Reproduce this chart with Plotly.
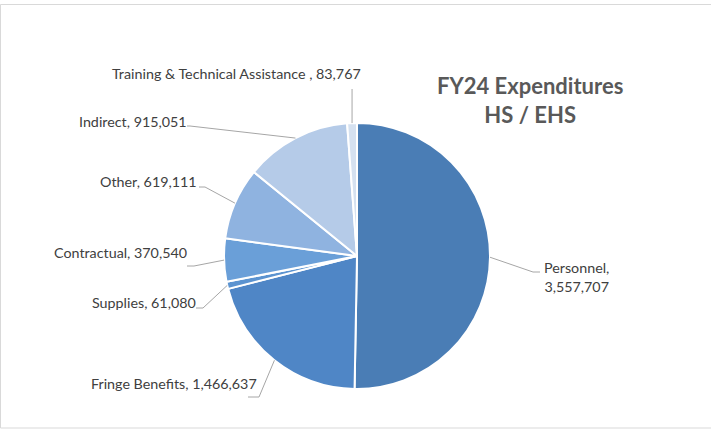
import math
import plotly.graph_objects as go

# ---- data ----
categories = ["Personnel", "Fringe Benefits", "Supplies", "Contractual",
              "Other", "Indirect", "Training & Technical Assistance "]
values = [3557707, 1466637, 61080, 370540, 619111, 915051, 83767]
colors = ["#4a7db5", "#4f86c6", "#5b93d0", "#6a9fd8",
          "#8fb3e0", "#b5cbe8", "#d5e1f0"]

W, H = 711, 430
CX, CY, R = 357, 256, 133

def px(x):
    return x / W

def py(y):
    return 1 - y / H

fig = go.Figure()
fig.add_trace(go.Pie(
    labels=categories, values=values, sort=False, direction="clockwise",
    rotation=0, textinfo="none", hoverinfo="label+value",
    marker=dict(colors=colors, line=dict(color="white", width=2)),
    domain=dict(x=[px(CX - R), px(CX + R)], y=[py(CY + R), py(CY - R)]),
    showlegend=False,
))

# label layout: elbow points (px), label anchor (px), xanchor
label_layout = [
    dict(path=[(533, 272), (540, 272)], pos=(576, 277), xa="center"),
    dict(path=[(259, 397), (248, 397)], pos=(259, 383), xa="right"),
    dict(path=[(203, 308), (196, 308)], pos=(198, 302), xa="right"),
    dict(path=[(194, 266), (187, 266)], pos=(189, 252), xa="right"),
    dict(path=[(205, 187), (199, 187)], pos=(199, 182), xa="right"),
    dict(path=[(190, 126), (187, 126)], pos=(189, 121), xa="right"),
    dict(path=[None, (0, 89)], pos=(236, 73), xa="center"),
]

total = sum(values)
cum = 0.0
shapes = []
annotations = []
label_font = dict(family="Lato, Carlito, sans-serif", size=14.3, color="#404040")
for cat, v, lay in zip(categories, values, label_layout):
    mid = (cum + v / 2) / total * 2 * math.pi
    cum += v
    ex = CX + R * math.sin(mid)
    ey = CY - R * math.cos(mid)
    pts = [(ex, ey)]
    for p in lay["path"]:
        if p is None:
            continue
        if p[0] == 0:
            pts.append((ex, p[1]))
        else:
            pts.append(p)
    d = "M {} {}".format(px(pts[0][0]), py(pts[0][1]))
    for q in pts[1:]:
        d += " L {} {}".format(px(q[0]), py(q[1]))
    shapes.append(dict(type="path", path=d, xref="paper", yref="paper",
                       line=dict(color="#a6a6a6", width=1)))
    val = f"{v:,}"
    if cat == "Personnel":
        text = f"{cat},<br>{val}"
    else:
        text = f"{cat}, {val}"
    annotations.append(dict(text=text, x=px(lay["pos"][0]), y=py(lay["pos"][1]),
                            xref="paper", yref="paper", xanchor=lay["xa"],
                            yanchor="middle", showarrow=False, font=label_font,
                            align="center"))

annotations.append(dict(text="<b>FY24 Expenditures</b><br><b>HS / EHS</b>",
                        x=px(530), y=py(100), xref="paper", yref="paper",
                        xanchor="center", yanchor="middle", showarrow=False,
                        align="center",
                        font=dict(family="Lato, Carlito, sans-serif", size=22,
                                  color="#595959")))

shapes.append(dict(type="rect", xref="paper", yref="paper",
                   x0=px(0.5), x1=px(713), y0=py(428), y1=py(4.5),
                   line=dict(color="#d9d9d9", width=1)))

fig.update_layout(width=W, height=H, margin=dict(l=0, r=0, t=0, b=0),
                  paper_bgcolor="white", plot_bgcolor="white",
                  shapes=shapes, annotations=annotations)

fig.write_html("out.html",
               config={"displayModeBar": False},
               post_script="document.body.style.margin='0';"
                           "document.body.style.overflow='hidden';")
